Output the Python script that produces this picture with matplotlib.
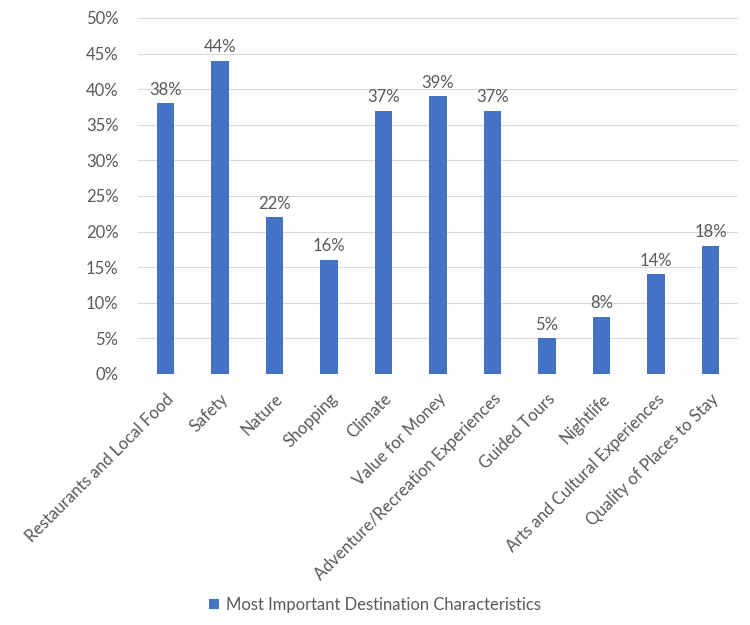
import matplotlib.pyplot as plt
from matplotlib.ticker import PercentFormatter

categories = ["Restaurants and Local Food", "Safety", "Nature", "Shopping", "Climate",
              "Value for Money", "Adventure/Recreation Experiences", "Guided Tours",
              "Nightlife", "Arts and Cultural Experiences", "Quality of Places to Stay"]
values = [38, 44, 22, 16, 37, 39, 37, 5, 8, 14, 18]
series_name = "Most Important Destination Characteristics"

plt.rcParams['font.family'] = ['Lato', 'DejaVu Sans']
text_color = '#595959'
bar_color = '#4472C4'
fs = 12

fig = plt.figure(figsize=(7.5, 6.25), dpi=100)
ax = fig.add_axes([0.184, 0.4016, 0.80, 0.5696])

x = range(len(categories))
bars = ax.bar(x, values, width=0.32, color=bar_color, label=series_name, zorder=3)
for xi, v in zip(x, values):
    ax.text(xi, v + 0.8, f"{v}%", ha='center', va='bottom', fontsize=fs, color=text_color)

ax.set_ylim(0, 50)
ax.set_xlim(-0.5, len(categories) - 0.5)
ax.set_yticks(range(0, 51, 5))
ax.yaxis.set_major_formatter(PercentFormatter(decimals=0))
ax.grid(axis='y', color='#d9d9d9', linewidth=0.8, zorder=0)
ax.set_xticks(list(x))
ax.set_xticklabels(categories, rotation=45, ha='right', rotation_mode='anchor')
ax.tick_params(axis='both', length=0, labelsize=fs, colors=text_color)
ax.tick_params(axis='y', pad=14)
ax.tick_params(axis='x', pad=12)
for s in ax.spines.values():
    s.set_visible(False)
ax.axhline(0, color='#d9d9d9', linewidth=0.8, zorder=2)

fig.legend(handles=[bars], labels=[series_name], loc='center', bbox_to_anchor=(0.5, 0.032),
           frameon=False, fontsize=fs, labelcolor=text_color, handlelength=0.6,
           handleheight=0.6, handletextpad=0.4)

fig.savefig("out.png")
